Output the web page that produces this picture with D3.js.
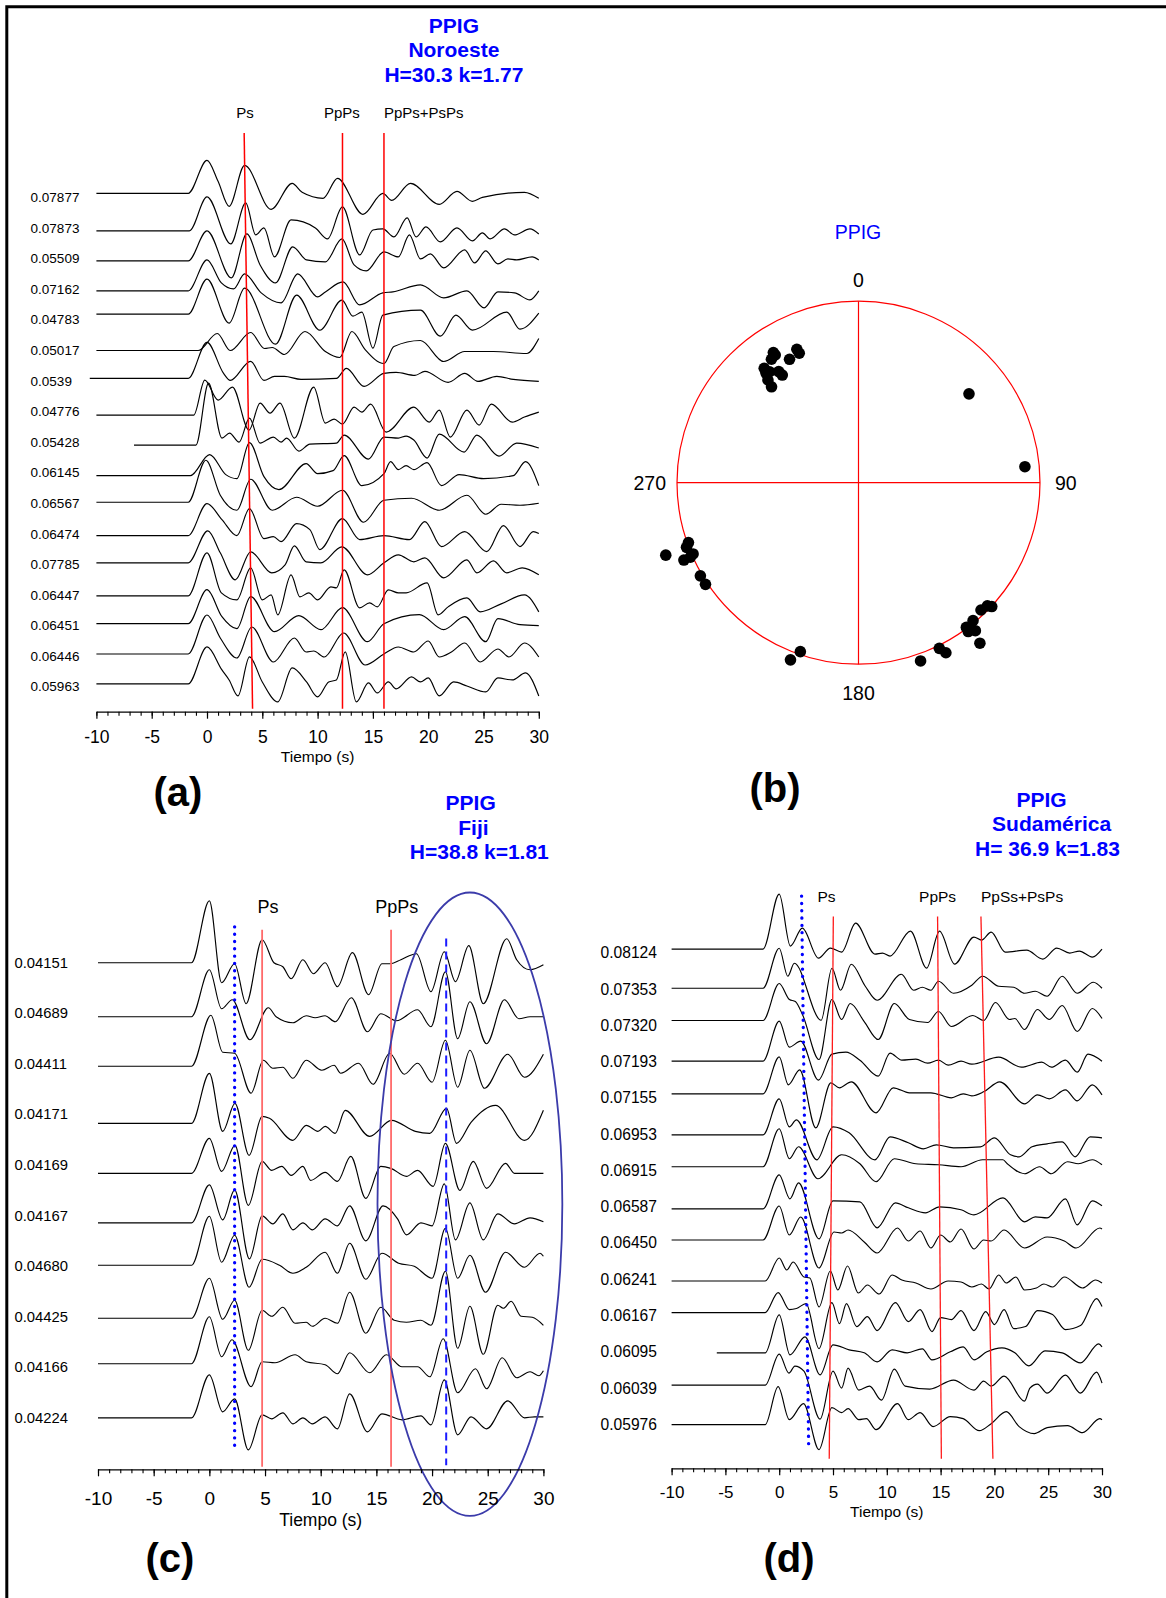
<!DOCTYPE html>
<html>
<head>
<meta charset="utf-8">
<script src="https://cdn.jsdelivr.net/npm/d3@7"></script>
<style>
  body { margin: 0; background: #fff; }
  svg { display: block; }
  text { font-family: "Liberation Sans", Arial, sans-serif; }
</style>
</head>
<body>
<div id="chart"></div>
<script>
const width = 1166;
const height = 1598;

// ---------- panel (a) : Noroeste ----------
const labelsA = ["0.07877","0.07873","0.05509","0.07162","0.04783","0.05017","0.0539","0.04776","0.05428",
                 "0.06145","0.06567","0.06474","0.07785","0.06447","0.06451","0.06446","0.05963"];
// trace baseline, in label-row units
const offsetsA = [-0.13,1.10,2.08,3.06,3.82,5.01,5.92,7.12,8.10,9.10,9.97,11.06,11.95,13.03,13.94,14.93,15.91];
// each trace: time (s), amplitude pairs (peaks / troughs)
const tracesA = [
  [-10,0, -1.7,0, 0,33, 1,12, 2,-13, 3.4,28, 5.8,-16, 7.7,10, 8.6,1, 10.5,-5, 11.8,15, 14.1,-21, 15.9,0, 16.7,-7, 18.4,10, 21,-11, 22.6,2, 24,-8, 24.9,-4, 28.7,1, 30,-5],
  [-10,0, -1.6,0, 0,34, 2.15,-13, 3.5,28, 4.4,-4, 5.15,3, 6.1,-26, 7.6,11, 9.8,3, 10.9,-8, 12.25,24, 13.8,-24, 15,1, 15.9,2, 16.9,-6, 18.1,13, 18.9,-6, 19.8,4, 21.1,-11, 22.6,3, 24,-10, 24.9,-2, 25.6,-8, 26.9,2, 27.8,-4, 29.2,2, 30,-3],
  [-10,0, -1.7,0, 0,30, 2.2,-17, 3.6,27, 4.8,-4, 6.2,-22, 7.75,14, 9,1, 10.7,-1, 12.2,22, 13.3,-4, 14.4,-10, 16,9, 17.3,4, 18.3,26, 19.3,2, 20.2,7, 21.4,-7, 23.3,11, 24.2,-2, 25.2,10, 26.3,-3, 27.2,2, 28,1, 29.4,4, 30,1],
  [-10,0, -1.7,0, 0,31, 1.3,8, 2.4,2, 3.4,17, 4.9,-2, 6.7,-12, 8.2,17, 10,-6, 10.7,-1, 12.3,9, 13.8,-14, 15.9,-2, 16.8,-1, 19.3,6, 21.4,-7, 23.5,0, 25.05,-17, 26.3,-1, 27.8,-2, 29.2,-9, 30,0],
  [-10,0, -1.7,0, 0,35, 2,-9, 3.4,26, 6.2,-30, 8.1,19, 10.2,-16, 12.2,14, 13.2,-2, 14,2, 15,-34, 15.9,-1, 19.3,4, 21.1,-22, 22.5,-1, 24,-16, 27.1,2, 28.3,-15, 30,1],
  [-10,0, -0.8,0, 0.93,17, 2.1,0, 3.95,18, 5.2,2, 5.9,3, 7,-4, 8.86,19, 10.7,-1, 12,-7, 13.1,19, 14.3,1, 16,-13, 16.9,4, 19.3,10, 21.4,-11, 23.3,-1, 25.9,-1, 28.9,-3, 30,12],
  [-10.6,0, -1.7,0, 0,36, 1.5,5, 2.1,-2, 3.95,17, 5.15,-2, 6.1,2, 7,2, 8.5,-1, 11.7,0, 12.6,10, 14.2,-8, 16,5, 17.1,6, 18.8,3, 19.7,7, 21.8,-4, 23.3,5, 24.5,-3, 26.2,2, 27.7,-1, 30,-3],
  [-10,0, -1.2,0, -0.2,35, 1,15, 2.3,28, 3.8,-15, 4.8,12, 5.7,2, 6.6,12, 7.9,-23, 9.65,28, 10.7,-8, 11.5,-4, 12.25,-9, 13.3,8, 14,3, 14.8,11, 16.2,-17, 18.7,8, 20.1,-7, 21,5, 22,-22, 23.5,5, 24.6,-10, 25.7,11, 27.6,-7, 28.7,-2, 30,3],
  [-6.6,0, -1,0, 0.14,62, 1.35,7, 2.04,12, 2.9,3, 3.84,27, 4.8,2, 6,8, 6.7,3, 7.2,7, 8.3,-6, 9.3,1, 11.7,2, 12.4,10, 14.6,-14, 16,8, 17.3,7, 18,9, 18.7,5, 19.9,-13, 21,11, 23.25,-7, 24.4,10, 26.4,-11, 28,2, 30,-3],
  [-10,0, -1.5,0, 0.24,21, 1.7,1, 2.7,-3, 3.84,33, 5.15,-1, 6.5,-14, 8.96,12, 10,2, 11.4,5, 12.4,20, 14,-10, 16,2, 16.6,14, 17.3,6, 18,10, 18.7,6, 19.9,13, 21.2,-10, 22.8,1, 25,-3, 27.7,0, 28.8,14, 30,-10],
  [-10,0, -1.7,0, -0.1,42, 1.2,7, 2.7,-8, 3.95,23, 5.9,-8, 8.1,5, 10,-4, 12.25,12, 14.15,-20, 16,2, 18.5,4, 21,-8, 23.5,7, 25.2,-12, 26.6,-2, 28.3,-3, 30,-1],
  [-10,0, -1.7,0, 0,32, 1.35,16, 2.7,0, 3.84,27, 5.15,-3, 6,-1, 6.7,-6, 8.1,12, 9.3,6, 10.2,-14, 12.25,17, 13.8,-4, 16,0, 18.3,-4, 19.7,14, 21.2,-11, 23.3,4, 25.3,-16, 26.8,10, 28.3,-11, 29.5,4, 30,2],
  [-10,0, -1.7,0, 0.07,32, 1.2,10, 2.56,-17, 3.95,11, 5.85,-10, 7.06,-2, 7.9,17, 8.96,1, 10.3,0, 12.2,16, 14.5,-12, 16,0, 17.3,8, 18.7,1, 19.7,5, 21.4,-15, 23.5,3, 24.4,-10, 25.9,2, 27.1,-10, 28.5,-5, 30,-12],
  [-10,0, -1.7,0, 0,43, 1.3,3, 2.7,-4, 3.95,28, 5,-4, 5.8,1, 6.4,-19, 7.6,21, 8.4,-1, 9.2,3, 10,-4, 11.2,9, 11.7,8, 12.4,26, 13.8,-12, 14.7,-7, 15.4,-11, 16.4,6, 17.3,3, 18,3, 19.9,13, 20.9,-19, 21.8,-11, 23.5,-2, 24.7,-16, 26.6,-8, 28.7,1, 30,-16],
  [-10,0, -1.7,0, 0,34, 1.35,7, 2.7,-5, 3.95,27, 6.1,-8, 8.3,8, 10.3,-6, 12.25,16, 14.5,-18, 16,0, 19.2,9, 21.4,-6, 23.3,7, 25.2,-18, 26.3,5, 28.3,-1, 30,-2],
  [-10,0, -1.7,0, 0,39, 1.2,16, 2.7,-4, 4.05,27, 6,-8, 7.9,16, 8.96,2, 9.65,3, 10.6,-3, 12.35,21, 14.3,-11, 16,0, 17.3,7, 18.7,2, 20,13, 21,-3, 22.1,2, 23.3,11, 24.7,-8, 26.3,5, 27.3,-3, 28.7,11, 30,-3],
  [-10,0, -1.7,0, 0,37, 1.35,14, 2,4, 2.8,-12, 3.84,27, 5,2, 6.4,-18, 7.7,16, 9,2, 10,-13, 11,2, 11.7,4, 12.5,32, 13.5,-18, 14.6,1, 15.4,-9, 16.4,2, 17.1,-5, 18.5,7, 19.3,2, 20,6, 21,-12, 22.3,2, 23.5,-2, 25.2,-8, 26.3,6, 27.6,4, 28.8,11, 30,-12]
];
const phasesA = ["Ps", "PpPs", "PpPs+PsPs"];
const phaseTopA = [3.36, 12.25, 16.0];
const phaseBotA = [4.12, 12.25, 16.0];
const phaseLabelTA = [3.44, 12.19, 16.0];
const titleA = ["PPIG", "Noroeste", "H=30.3 k=1.77"];

// ---------- panel (b) : back-azimuth / distance ----------
const bazB = [335.2,335.4,330.8,326.8,326.9,324.8,320.5,319.8,321.3,324.7,324.3,318.6,317.8,51.2,84.5,
              250.6,249.4,246.7,249.4,246.1,246.1,239.5,236.4,132.9,133.7,136.1,140.3,143.3,143.6,141.7,
              142.9,154,152.8,160.8,199,201];
const distB = [72.9,70.6,70.1,77.1,75.6,74.9,73.5,71,70.5,65.4,67.8,67.9,64.2,70.3,82.9,
               89.4,91.1,89.3,102.1,94.7,91.2,91,91.1,90.2,88.4,87.6,88.9,89.5,91.7,93.5,
               99.8,91.4,94.8,93.6,88.6,94.1];
const compassB = [0, 90, 180, 270];

// ---------- panel (c) : Fiji ----------
const labelsC = ["0.04151","0.04689","0.04411","0.04171","0.04169","0.04167","0.04680","0.04425","0.04166","0.04224"];
const offsetsC = [0,1.07,2.05,3.18,4.17,5.15,5.99,7.04,7.94,9.01];
const tracesC = [
  [-10,0, -1.6,0, 0,62, 1.1,-20, 2.27,-1, 3.3,-41, 4.74,23, 5.8,0, 6.6,-4, 7.35,-16, 8.4,3, 9.35,-11, 10.4,0, 11.5,-24, 12.85,10, 14.3,-32, 15.5,-1, 16.3,-1, 17.2,3, 18.6,9, 19.9,-29, 21.1,11, 22.1,-19, 23.3,17, 24.6,-41, 26.7,24, 27.6,3, 28.8,-7, 30,-2],
  [-10,0, -1.6,0, 0,47, 1.1,8, 2.06,17, 3.64,-23, 5.3,9, 6,0, 7.5,-6, 8.7,1, 9.5,-1, 10.4,1, 11.3,-5, 12.75,19, 14.2,-15, 15.4,3, 16.8,-4, 18.7,7, 19.9,-10, 21.2,45, 22.3,-22, 23.4,15, 24.9,-27, 26.5,17, 27.8,-2, 28.8,0, 30,0],
  [-10,0, -1.6,0, 0.14,51, 1.2,14, 2.27,13, 3.75,-27, 4.85,6, 5.7,-2, 6.6,-1, 7.5,-12, 8.7,6, 10.1,-4, 11.2,1, 11.8,-7, 13.4,3, 14.7,-18, 16.2,13, 17.5,-8, 18.7,3, 20,-16, 21.2,26, 22.3,-21, 23.4,16, 24.7,-22, 26.8,12, 28.3,-11, 30,12],
  [-10,0, -1.6,0, 0,50, 1.2,-8, 2.3,20, 3.57,-32, 4.74,7, 5.4,5, 7.5,-17, 8.7,-2, 9.75,-8, 10.4,-3, 11.3,-10, 12.2,13, 14.4,-13, 16.35,3, 18.5,-8, 19.8,-10, 21.3,15, 22.2,-20, 23.5,1, 25.7,18, 28.3,-17, 30,13],
  [-10,0, -1.6,0, 0,35, 1.1,2, 2.3,28, 3.5,-32, 4.74,12, 5.6,3, 6.5,7, 7.35,-2, 8.4,7, 9.1,-7, 10.4,1, 11.5,-8, 12.7,17, 14.05,-25, 15.4,7, 16.3,5, 17.7,-3, 18.7,3, 20.1,-13, 21.2,30, 22.5,-17, 23.7,12, 24.9,-15, 26.6,10, 27.4,0, 28.8,0, 30,0],
  [-10,0, -1.6,0, 0,38, 1.2,3, 2.27,33, 3.6,-36, 4.74,7, 5.7,-1, 6.6,9, 7.5,-7, 8.4,0, 9.25,-7, 10.4,4, 11.5,-3, 12.6,17, 14.05,-18, 15.6,17, 16.9,4, 17.7,-12, 19,0, 20,-3, 21.1,39, 22.1,-17, 23.4,20, 24.6,-17, 25.9,9, 27.4,-1, 28.8,5, 30,1],
  [-10,0, -1.6,0, 0,49, 1.1,3, 2.27,30, 3.57,-22, 4.74,6, 6.3,0, 7.5,-8, 8.7,-2, 10.4,13, 11.5,-8, 12.6,22, 14.05,-14, 15.5,12, 17,2, 18.4,-1, 20,-13, 21.2,37, 22.3,-13, 23.4,10, 24.8,-27, 26.6,13, 28.3,-2, 29.7,12, 30,9],
  [-10,0, -1.6,0, 0,40, 1.2,-1, 2.27,18, 3.5,-32, 4.74,8, 5.6,2, 6.6,11, 7.7,-5, 8.7,-4, 9.25,-8, 10.4,0, 11.5,-5, 12.6,26, 14.05,-15, 15.4,11, 16.6,-2, 17.7,-4, 19,-2, 19.9,-7, 21.2,47, 22.3,-30, 23.4,12, 24.6,-36, 25.9,13, 26.4,10, 27.1,17, 28,2, 29,1, 30,-7],
  [-10,0, -1.6,0, 0,47, 1.1,7, 2.03,24, 3.75,-23, 4.74,2, 5.9,1, 7.7,9, 8.7,2, 10.4,-1, 11.5,-10, 12.6,11, 14.4,-9, 15.9,9, 17.3,-3, 18.7,-3, 19.8,-13, 21,25, 22.3,-29, 23.9,-5, 24.9,-25, 26.3,6, 27.6,-14, 28.8,-8, 29.6,-12, 30,-7],
  [-10,0, -1.6,0, 0,43, 1.2,6, 2.27,19, 3.5,-32, 4.74,3, 5.6,-1, 6.6,5, 7.5,-6, 8.4,0, 9.25,-6, 10.4,1, 11.5,-11, 12.6,24, 14.2,-14, 15.5,4, 17.3,-2, 19,2, 19.9,-7, 21.1,38, 22.3,-17, 23.5,1, 24.9,-11, 26.8,17, 28.3,0, 29.2,1, 30,1]
];
const phasesC = ["Ps", "PpPs"];
const phaseTopC = [4.74, 16.32];
const phaseBotC = [4.74, 16.32];
const phaseLabelTC = [5.27, 16.84];
const titleC = ["PPIG", "Fiji", "H=38.8 k=1.81"];

// ---------- panel (d) : Sudamerica ----------
const labelsD = ["0.08124","0.07353","0.07320","0.07193","0.07155","0.06953","0.06915",
                 "0.06587","0.06450","0.06241","0.06167","0.06095","0.06039","0.05976"];
const offsetsD = [-0.10,0.98,1.87,2.99,3.89,5.02,5.90,7.06,7.92,9.05,9.92,11.03,11.92,13.01];
const tracesD = [
  [-10,0, -1.5,0, 0,55, 1.04,3, 2.15,21, 3.65,-9, 4.76,1, 5.8,-3, 7.1,26, 8.9,-5, 9.6,-4, 10.3,-7, 12.2,18, 13.7,-19, 14.9,18, 16.3,-15, 18.1,12, 18.8,9, 19.7,17, 21,-3, 23,-1, 24.5,-10, 25.8,1, 27,-4, 27.9,-2, 29.1,-8, 30,0],
  [-10,0, -1.5,0, 0,40, 0.8,12, 1.4,25, 3.9,-32, 4.9,20, 5.7,-2, 6.7,24, 8,2, 9.1,-12, 11.35,14, 12.5,-2, 13.3,1, 14.1,-2, 14.8,7, 16.2,-5, 17.9,3, 18.9,12, 20.4,2, 21.8,1, 22.8,-5, 23.8,-3, 24.9,-8, 26.3,12, 27.7,-5, 29.2,6, 30,0],
  [-10,0, -1.5,0, 0,37, 0.95,21, 1.5,19, 2.2,5, 3.7,-39, 4.9,21, 5.8,1, 6.6,17, 7.9,-1, 9.2,-19, 10.7,17, 12.1,1, 13.8,-2, 14.8,9, 16,-6, 18,5, 19,0, 20.1,18, 21.4,1, 21.9,2, 22.8,-9, 24,11, 25.1,1, 26.3,15, 27.7,-11, 29.1,12, 30,2],
  [-10,0, -1.5,0, 0,40, 0.94,14, 2,20, 3.65,-19, 4.9,7, 6.2,9, 7.5,1, 9.2,-15, 10.3,8, 11.4,1, 12.7,2, 13.8,-2, 14.8,1, 15.7,-4, 16.9,0, 17.9,-3, 20.4,4, 22.5,-6, 24.4,-1, 25.3,-6, 26.6,1, 27.7,-11, 28.7,7, 30,0],
  [-10,0, -1.5,0, 0,37, 0.85,9, 1.9,24, 3.4,-34, 4.8,11, 5.6,6, 6.7,12, 9,-19, 10.6,6, 12.1,1, 14.1,1, 16,-4, 17.1,0, 17.9,-2, 19,2, 20.5,12, 22.8,-10, 24,-1, 25.1,-5, 26.6,4, 27.7,-7, 29.1,9, 30,-1],
  [-10,0, -1.5,0, 0,36, 0.94,8, 1.6,15, 3.5,-25, 5,8, 6.5,2, 8.9,-25, 10.3,-2, 12,-8, 13.4,-14, 14.6,-10, 16.2,-13, 18.7,-12, 20,-3, 21.5,-20, 22.3,-22, 23.5,-12, 24.9,-9, 26.3,-7, 27.5,-22, 28.9,-2, 30,-3],
  [-10,0, -1.5,0, 0,38, 0.94,8, 1.8,20, 3.6,-12, 5.8,12, 7.5,3, 9,-15, 10.7,8, 12.7,3, 14.8,2, 16.9,0, 18.9,7, 20.8,7, 21.2,3, 22.8,-7, 24.2,0, 25.3,-7, 26.8,5, 27.8,3, 29.1,7, 30,2],
  [-10,0, -1.5,0, 0,34, 1,10, 1.8,26, 3.7,-30, 5,8, 7.5,7, 9.1,-19, 10.8,6, 12,1, 13.6,-4, 14.9,2, 16.9,-1, 18.1,-6, 20.8,11, 22.8,-13, 23.8,-8, 24.9,-9, 26.6,10, 27.7,-16, 29.1,8, 30,3],
  [-10,0, -1.5,0, 0,34, 0.94,5, 2,23, 3.7,-28, 5.1,8, 5.8,7, 6.4,10, 7.9,-2, 9.1,-13, 11,12, 12,-1, 13.1,9, 14.1,-8, 15,5, 15.9,-2, 16.9,11, 18.1,-9, 19,0, 19.7,-1, 20.9,10, 22.8,-8, 24.9,3, 26.5,-1, 27.6,-8, 29.8,12, 30,11],
  [-10,0, -1.3,0, 0,23, 0.7,11, 1.3,19, 2.3,4, 2.85,3, 3.7,-26, 4.75,10, 5.45,-9, 6.35,15, 7.35,-12, 8.2,-4, 9.3,-13, 10.5,6, 11.4,1, 12.7,-2, 14.1,-8, 15.7,0, 16.9,-1, 17.9,-6, 18.8,-3, 19.5,-8, 20.4,6, 21.1,-2, 22,4, 22.8,-9, 23.9,-7, 24.6,-3, 25.4,-6, 26.5,4, 28.2,-7, 29.4,1, 30,-2],
  [-10,0, -1.3,0, -0.1,20, 0.94,3, 1.6,4, 2.5,9, 3.7,-36, 4.9,10, 5.6,-11, 6.25,9, 7.2,-14, 8.2,-4, 9.1,-18, 10.8,10, 12,-9, 13.1,3, 14.2,-19, 15,-5, 16,-7, 16.9,2, 18.1,-18, 19.2,1, 20,-12, 20.9,3, 21.8,-16, 22.9,-14, 24,2, 25.4,-2, 26.6,-17, 28,-13, 29.5,14, 30,6],
  [-5.8,0, -1.3,0, 0,38, 1,-2, 2.4,16, 3.8,-22, 5,8, 6.5,3, 7.9,0, 9.1,-9, 10.5,3, 11.9,0, 13.3,4, 14.2,-7, 15.9,1, 17.1,6, 18.1,-7, 19.3,1, 20.7,5, 21.9,0, 23.2,-13, 24.7,2, 26.3,0, 28,-10, 29.7,9, 30,6],
  [-10,0, -1.3,0, 0,31, 0.9,12, 1.46,19, 2.3,14, 3.8,-34, 5,14, 5.8,-3, 6.4,17, 7.4,-5, 8.4,-1, 9.5,-15, 10.7,16, 11.7,-1, 14,-4, 16.2,5, 18.1,-5, 19,4, 19.7,-1, 20.9,9, 22.8,-16, 23.3,-3, 24,1, 24.9,-8, 26.6,10, 28,-8, 29.5,13, 30,2],
  [-10,0, -1.3,0, -0.1,38, 0.94,5, 2.26,21, 3.7,-25, 4.9,17, 5.8,12, 6.4,16, 7.4,5, 8.1,6, 9,-5, 11,21, 12,5, 13.1,12, 14.3,-2, 15.9,8, 17.1,6, 18.6,-6, 19.7,1, 21.1,13, 22.3,-2, 23.7,-9, 24.9,-3, 26.8,-1, 28.2,-8, 29.8,6, 30,5]
];
const phasesD = ["Ps", "PpPs", "PpSs+PsPs"];
const phaseTopD = [5.03, 14.72, 18.75];
const phaseBotD = [4.65, 15.07, 19.86];
const phaseLabelTD = [4.4, 14.72, 18.75];
const titleD = ["PPIG", "Sudamérica", "H= 36.9 k=1.83"];

const timeTicks = d3.range(-10, 31, 5);
const timeMinor = d3.range(-10, 31, 1);

// ---------------------------------------------------------------
const svg = d3.select("#chart")
    .append("svg")
    .attr("width", width)
    .attr("height", height);

svg.append("rect").attr("width", width).attr("height", height).attr("fill", "#fff");

// figure frame (only left and top edges are visible)
svg.append("path")
    .attr("d", `M6.8,${height}V6.8H${width}`)
    .attr("fill", "none")
    .attr("stroke", "#000")
    .attr("stroke-width", 3);

function pairs(arr) {
    const out = [];
    for (let i = 0; i < arr.length; i += 2) out.push([arr[i], arr[i + 1]]);
    return out;
}

function drawTracePanel(p) {
    const x = d3.scaleLinear().domain([-10, 30]).range(p.xRange);
    const y = d3.scaleLinear().domain([0, p.labels.length - 1]).range(p.yRange);
    const amp = d3.scaleLinear().domain([0, 100]).range([0, -100]);
    const g = svg.append("g");

    // trace labels (ray parameter)
    g.selectAll(".rlab")
        .data(p.labels)
        .enter().append("text")
        .attr("class", "rlab")
        .attr("x", p.labelX)
        .attr("y", (d, i) => y(i) + 0.355 * p.labelSize)
        .attr("font-size", p.labelSize)
        .attr("fill", "#000")
        .text(d => d);

    const line = d3.line().curve(d3.curveMonotoneX);
    g.selectAll(".trace")
        .data(p.traces)
        .enter().append("path")
        .attr("class", "trace")
        .attr("fill", "none")
        .attr("stroke", "#000")
        .attr("stroke-width", 1.15)
        .attr("d", (tr, i) => line(pairs(tr).map(d => [x(d[0]), y(p.offsets[i]) + amp(d[1])])));

    // phase lines
    const phases = p.phases.map((name, i) => ({ name, top: p.phaseTop[i], bot: p.phaseBot[i], lt: p.phaseLabelT[i] }));
    g.selectAll(".phase")
        .data(phases)
        .enter().append("line")
        .attr("x1", d => x(d.top))
        .attr("y1", y(p.lineTop))
        .attr("x2", d => x(d.bot))
        .attr("y2", y(p.lineBot))
        .attr("stroke", p.red)
        .attr("stroke-width", p.redWidth);

    g.selectAll(".plab")
        .data(phases)
        .enter().append("text")
        .attr("x", d => x(d.lt))
        .attr("y", y(p.phaseLabelY) + 0.355 * p.phaseSize)
        .attr("text-anchor", (d, i) => p.phaseAnchor[i])
        .attr("font-size", p.phaseSize)
        .attr("fill", "#000")
        .text(d => d.name);

    // blue dotted line (direct/intra-crustal arrival)
    if (p.dotted) {
        g.append("line")
            .attr("x1", x(p.dotted[0])).attr("y1", y(p.dotted[1]))
            .attr("x2", x(p.dotted[2])).attr("y2", y(p.dotted[3]))
            .attr("stroke", "#0000ff")
            .attr("stroke-width", 3.3)
            .attr("stroke-linecap", "round")
            .attr("stroke-dasharray", "0.1,7.2");
    }
    if (p.dashed) {
        g.append("line")
            .attr("x1", x(p.dashed[0])).attr("y1", y(p.dashed[1]))
            .attr("x2", x(p.dashed[2])).attr("y2", y(p.dashed[3]))
            .attr("stroke", "#1a1aff")
            .attr("stroke-width", 2)
            .attr("stroke-dasharray", "8,5");
    }
    if (p.ellipse) {
        const e = p.ellipse;
        g.append("ellipse")
            .attr("cx", x(e.t))
            .attr("cy", y(e.row))
            .attr("rx", x(e.t + e.dt) - x(e.t))
            .attr("ry", y(e.row + e.drow) - y(e.row))
            .attr("fill", "none")
            .attr("stroke", "#3b3baa")
            .attr("stroke-width", 1.8);
    }

    // time axis: minor ticks every second, labelled every 5 s
    const minor = g.append("g")
        .attr("transform", `translate(0,${p.axisY})`)
        .call(d3.axisBottom(x).tickValues(timeMinor).tickSize(4).tickSizeOuter(0).tickFormat(""));
    minor.select(".domain").attr("stroke-width", 1.3);
    minor.selectAll(".tick line").attr("stroke-width", 1.1);

    const major = g.append("g")
        .attr("transform", `translate(0,${p.axisY})`)
        .attr("font-family", "Liberation Sans, Arial, sans-serif")
        .call(d3.axisBottom(x).tickValues(timeTicks).tickSize(7).tickSizeOuter(0)
            .tickPadding(p.tickPad).tickFormat(d => String(d)));
    major.select(".domain").remove();
    major.selectAll(".tick line").attr("stroke-width", 1.2);
    major.selectAll("text").attr("font-size", p.tickSize).attr("fill", "#000");

    g.append("text")
        .attr("x", x(10))
        .attr("y", p.axisY + p.xTitleDy + 0.355 * p.xTitleSize)
        .attr("text-anchor", "middle")
        .attr("font-size", p.xTitleSize)
        .attr("fill", "#000")
        .text("Tiempo (s)");

    // title block
    g.selectAll(".ttl")
        .data(p.title)
        .enter().append("text")
        .attr("x", (d, i) => p.titleX[i])
        .attr("y", (d, i) => p.titleY + i * 24.5 + 7.5)
        .attr("text-anchor", "middle")
        .attr("font-size", 21)
        .attr("font-weight", "bold")
        .attr("fill", "#0000ff")
        .text(d => d);
}

drawTracePanel({
    labels: labelsA, offsets: offsetsA, traces: tracesA,
    xRange: [96.4, 538.8], yRange: [197.3, 686.7], labelX: 30.6, labelSize: 13.5,
    phases: phasesA, phaseTop: phaseTopA, phaseBot: phaseBotA, phaseLabelT: phaseLabelTA,
    phaseAnchor: ["middle", "middle", "start"], phaseLabelY: -2.77, phaseSize: 15,
    lineTop: -2.1, lineBot: 16.72, red: "#ff0000", redWidth: 1.5,
    axisY: 711.7, tickPad: 11.5, tickSize: 17.5, xTitleDy: 44.3, xTitleSize: 15.5,
    title: titleA, titleX: [453.9, 453.9, 453.9], titleY: 25
});

drawTracePanel({
    labels: labelsC, offsets: offsetsC, traces: tracesC,
    xRange: [98, 543.4], yRange: [962.7, 1417.3], labelX: 14.5, labelSize: 14.8,
    phases: phasesC, phaseTop: phaseTopC, phaseBot: phaseBotC, phaseLabelT: phaseLabelTC,
    phaseAnchor: ["middle", "middle"], phaseLabelY: -1.11, phaseSize: 18,
    lineTop: -0.65, lineBot: 9.98, red: "#ff6a6a", redWidth: 1.8,
    dotted: [2.27, -0.71, 2.27, 9.65],
    dashed: [21.27, -0.48, 21.27, 9.95],
    ellipse: { t: 23.4, dt: 8.3, row: 4.78, drow: 6.17 },
    axisY: 1469.3, tickPad: 15, tickSize: 19, xTitleDy: 50, xTitleSize: 17.5,
    title: titleC, titleX: [470.7, 473.4, 479.3], titleY: 802.7
});

drawTracePanel({
    labels: labelsD, offsets: offsetsD, traces: tracesD,
    xRange: [671.6, 1102], yRange: [952.7, 1424.3], labelX: 600.6, labelSize: 15.6,
    phases: phasesD, phaseTop: phaseTopD, phaseBot: phaseBotD, phaseLabelT: phaseLabelTD,
    phaseAnchor: ["middle", "middle", "start"], phaseLabelY: -1.54, phaseSize: 15.5,
    lineTop: -1.0, lineBot: 13.95, red: "#ff1a1a", redWidth: 1.3,
    dotted: [2.08, -1.56, 2.74, 13.66],
    axisY: 1468.3, tickPad: 11, tickSize: 17, xTitleDy: 43.4, xTitleSize: 15.5,
    title: titleD, titleX: [1041.5, 1051.6, 1047.5], titleY: 799.3
});

// ---------- panel (b) ----------
const rScale = d3.scaleLinear().domain([0, 90]).range([0, 181.5]);
const rad = d => d * Math.PI / 180;
const polar = svg.append("g").attr("transform", "translate(858.5,482.7)");
const R = rScale(90);

polar.append("circle")
    .attr("r", R)
    .attr("fill", "none")
    .attr("stroke", "#ff0000")
    .attr("stroke-width", 1.2);

polar.selectAll(".axisline")
    .data([0, 90])
    .enter().append("line")
    .attr("x1", d => d3.pointRadial(rad(d), R)[0])
    .attr("y1", d => d3.pointRadial(rad(d), R)[1])
    .attr("x2", d => d3.pointRadial(rad(d + 180), R)[0])
    .attr("y2", d => d3.pointRadial(rad(d + 180), R)[1])
    .attr("stroke", "#ff0000")
    .attr("stroke-width", 1.2);

const compassPad = { 0: 21.5, 90: 15, 180: 29, 270: 11 };
polar.selectAll(".compass")
    .data(compassB)
    .enter().append("text")
    .attr("x", d => d3.pointRadial(rad(d), R + compassPad[d])[0])
    .attr("y", d => d3.pointRadial(rad(d), R + compassPad[d])[1] + 0.355 * 19.5)
    .attr("text-anchor", d => d === 90 ? "start" : d === 270 ? "end" : "middle")
    .attr("font-size", 19.5)
    .attr("fill", "#000")
    .text(d => d);

polar.selectAll(".ev")
    .data(bazB.map((b, i) => [b, distB[i]]))
    .enter().append("circle")
    .attr("cx", d => d3.pointRadial(rad(d[0]), rScale(d[1]))[0])
    .attr("cy", d => d3.pointRadial(rad(d[0]), rScale(d[1]))[1])
    .attr("r", 5.8)
    .attr("fill", "#000");

svg.append("text")
    .attr("x", 858)
    .attr("y", 232.3 + 0.355 * 19.5)
    .attr("text-anchor", "middle")
    .attr("font-size", 19.5)
    .attr("fill", "#0000ff")
    .text("PPIG");

// ---------- panel letters ----------
const panelLetters = ["(a)", "(b)", "(c)", "(d)"];
const letterPos = [[178, 806], [775, 802], [170, 1571.5], [789, 1571.5]];
svg.selectAll(".letter")
    .data(panelLetters)
    .enter().append("text")
    .attr("x", (d, i) => letterPos[i][0])
    .attr("y", (d, i) => letterPos[i][1])
    .attr("text-anchor", "middle")
    .attr("font-size", 40)
    .attr("font-weight", "bold")
    .attr("fill", "#000")
    .text(d => d);
</script>
</body>
</html>
